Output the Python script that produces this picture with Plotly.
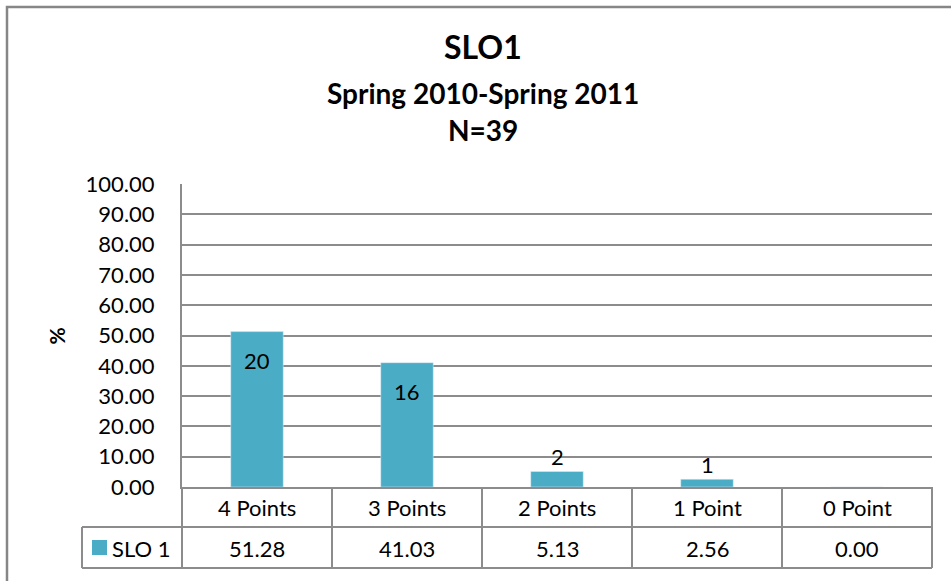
import plotly.graph_objects as go

# data
categories = ['4 Points', '3 Points', '2 Points', '1 Point', '0 Point']
pct = [51.28, 41.03, 5.13, 2.56, 0.00]
counts = [20, 16, 2, 1, 0]
series_name = 'SLO 1'
title_lines = ['SLO1', 'Spring 2010-Spring 2011', 'N=39']

bar_color = '#4BACC6'
grid_color = '#8c8c8c'
font = 'Lato'
fs = 22
n = len(categories)

fig = go.Figure(go.Bar(x=categories, y=pct, marker_color=bar_color,
                       width=0.35, name=series_name, hoverinfo='x+y'))

# count labels on bars (inside end for tall bars, above for short ones)
for c, v, k in zip(categories, pct, counts):
    if k == 0:
        continue
    fig.add_annotation(x=c, y=v, text=str(k), showarrow=False,
                       yanchor='middle', yshift=-29 if v > 10 else 15,
                       font=dict(family=font, size=fs, color='black'))

# titles
sizes = [32, 28, 28]
shifts = [138, 91, 54]
for t, s, sh in zip(title_lines, sizes, shifts):
    fig.add_annotation(x=0.401, y=1, xref='paper', yref='paper', text='<b>%s</b>' % t,
                       showarrow=False, xanchor='center', yanchor='middle', yshift=sh,
                       font=dict(family=font, size=s, color='black'))

# y axis title
fig.add_annotation(x=-0.1667, y=0.5, xref='paper', yref='paper', text='<b>%</b>',
                   textangle=-90, showarrow=False, xanchor='center',
                   font=dict(family=font, size=21, color='black'))

# data table below the axis
line = dict(color=grid_color, width=2)
row1, row2 = -40, -81
for i, (c, v) in enumerate(zip(categories, pct)):
    xc = (i + 0.5) / n
    fig.add_annotation(x=xc, y=0, xref='paper', yref='paper', text=c, showarrow=False,
                       xanchor='center', yanchor='middle', yshift=-20,
                       font=dict(family=font, size=fs, color='black'))
    fig.add_annotation(x=xc, y=0, xref='paper', yref='paper', text='%.2f' % v,
                       showarrow=False, xanchor='center', yanchor='middle', yshift=-61,
                       font=dict(family=font, size=fs, color='black'))
for i in range(n + 1):
    fig.add_shape(type='line', xref='paper', yref='paper', x0=i / n, x1=i / n,
                  ysizemode='pixel', yanchor=0, y0=0, y1=row2, line=line)
leg_x = -100 / 750
for yy in (row1, row2):
    fig.add_shape(type='line', xref='paper', yref='paper', x0=leg_x, x1=1,
                  ysizemode='pixel', yanchor=0, y0=yy, y1=yy, line=line)
fig.add_shape(type='line', xref='paper', yref='paper', x0=leg_x, x1=leg_x,
              ysizemode='pixel', yanchor=0, y0=row1, y1=row2, line=line)

# legend key in the table
fig.add_shape(type='rect', xref='paper', yref='paper', xsizemode='pixel', xanchor=leg_x,
              x0=10, x1=25, ysizemode='pixel', yanchor=0, y0=-53, y1=-68,
              fillcolor=bar_color, line=dict(width=0))
fig.add_annotation(x=leg_x, y=0, xref='paper', yref='paper', text=series_name,
                   showarrow=False, xanchor='left', xshift=28, yanchor='middle', yshift=-61,
                   font=dict(family=font, size=fs, color='black'))

# outer chart border
fig.add_shape(type='rect', xref='paper', yref='paper', x0=-175 / 750, x1=1.1,
              y0=-0.5, y1=480 / 303, line=dict(color='#868686', width=2.5))

fig.update_xaxes(showticklabels=False, showgrid=False, showline=True,
                 linecolor=grid_color, linewidth=2, range=[-0.5, n - 0.5])
fig.update_yaxes(range=[0, 100], dtick=10, tickformat='.2f', showgrid=True,
                 gridcolor=grid_color, gridwidth=1.5, showline=True,
                 linecolor=grid_color, linewidth=2, zeroline=False, ticks='',
                 ticklabelstandoff=21,
                 tickfont=dict(family=font, size=fs, color='black'))
fig.update_layout(width=951, height=581, showlegend=False, bargap=0.65,
                  plot_bgcolor='white', paper_bgcolor='white',
                  margin=dict(l=182, r=19, t=184, b=94))
fig.write_html('out.html', config={'displayModeBar': False},
               post_script="document.body.style.margin='0';")
